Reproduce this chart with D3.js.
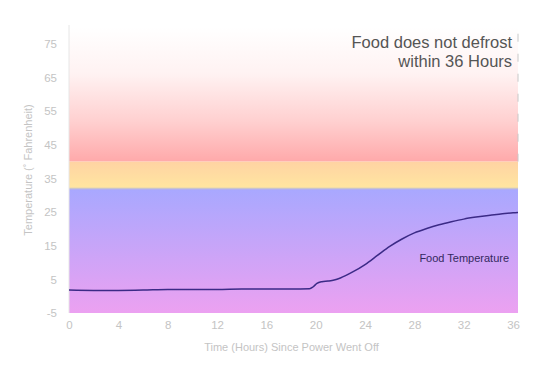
<!DOCTYPE html>
<html>
<head>
<meta charset="utf-8">
<script src="https://cdn.jsdelivr.net/npm/d3@7"></script>
<style>
  body { margin: 0; background: #fff; }
  text { font-family: "Liberation Sans", Arial, sans-serif; }
</style>
</head>
<body>
<div id="chart"></div>
<script>
// time in hours since power went off
const hours = [0, 2, 4, 6, 8, 10, 12, 14, 16, 18, 19.5, 19.8, 20.1, 20.5, 21, 21.5, 22, 23, 24, 25, 26, 27, 28, 29, 30, 31, 32, 33, 34, 35, 36, 36.4]
// food temperature (F)
const temps = [1.8, 1.7, 1.7, 1.8, 2.0, 2.0, 2.0, 2.1, 2.1, 2.1, 2.2, 2.8, 3.8, 4.3, 4.5, 4.8, 5.4, 7.2, 9.4, 12.1, 14.8, 17.0, 18.8, 20.1, 21.2, 22.1, 22.9, 23.5, 24.0, 24.4, 24.8, 24.9]
const xTicks = [0, 4, 8, 12, 16, 20, 24, 28, 32, 36]
const yTicks = [-5, 5, 15, 25, 35, 45, 55, 65, 75]
// temperature zones
const zones = [
  {name: "danger", lo: 40, hi: 80, stops: [[0, "#ffffff"], [0.35, "#fff2f2"], [0.7, "#ffd0d0"], [1, "#ffa9aa"]]},
  {name: "thaw", lo: 32, hi: 40, stops: [[0, "#ffd3a3"], [1, "#ffe6a0"]]},
  {name: "frozen", lo: -5, hi: 32, stops: [[0, "#a8a8ff"], [1, "#eca1f1"]]}
]

const W = 559, H = 371
const m = {left: 69, right: 41, top: 27, bottom: 58}
const w = W - m.left - m.right, h = H - m.top - m.bottom

const svg = d3.select("#chart").append("svg")
  .attr("width", W).attr("height", H)

const x = d3.scaleLinear().domain([0, 36.4]).range([0, w])
const y = d3.scaleLinear().domain([-5, 80]).range([h, 0])

const defs = svg.append("defs")
zones.forEach(z => {
  const grad = defs.append("linearGradient")
    .attr("id", "grad-" + z.name)
    .attr("x1", 0).attr("y1", 0).attr("x2", 0).attr("y2", 1)
  z.stops.forEach(s => {
    grad.append("stop").attr("offset", s[0]).attr("stop-color", s[1])
  })
})

const g = svg.append("g")
  .attr("transform", `translate(${m.left},${m.top})`)

g.selectAll("rect.zone")
  .data(zones)
  .enter().append("rect")
  .attr("class", "zone")
  .attr("x", 0)
  .attr("width", w)
  .attr("y", d => y(d.hi))
  .attr("height", d => y(d.lo) - y(d.hi))
  .attr("fill", d => "url(#grad-" + d.name + ")")

// thin divider between thaw and frozen
g.append("line")
  .attr("x1", 0).attr("x2", w)
  .attr("y1", y(32)).attr("y2", y(32))
  .attr("stroke", "#c8c4cc").attr("stroke-width", 1.5)

// left axis line
g.append("line")
  .attr("x1", 0).attr("x2", 0)
  .attr("y1", -2).attr("y2", h)
  .attr("stroke", "#e6e6e6")

// dashed end marker
g.append("line")
  .attr("x1", w).attr("x2", w)
  .attr("y1", y(78)).attr("y2", y(40))
  .attr("stroke", "#c8c8c8")
  .attr("stroke-dasharray", "8,12")

// axes
const xAxis = g.append("g")
  .attr("transform", `translate(0,${h})`)
  .call(d3.axisBottom(x).tickValues(xTicks).tickSize(0).tickPadding(8))
xAxis.select(".domain").remove()
xAxis.selectAll("text").attr("fill", "#c4c4c4").attr("font-size", "11.5px")

const yAxis = g.append("g")
  .call(d3.axisLeft(y).tickValues(yTicks).tickSize(0).tickPadding(12).tickFormat(d => String(d)))
yAxis.select(".domain").remove()
yAxis.selectAll("text").attr("fill", "#c4c4c4").attr("font-size", "11.5px")

// titles
g.append("text")
  .attr("x", w / 2 - 2)
  .attr("y", h + 38)
  .attr("text-anchor", "middle")
  .attr("font-size", "11px")
  .attr("fill", "#c4c4c4")
  .text("Time (Hours) Since Power Went Off")

g.append("text")
  .attr("transform", "rotate(-90)")
  .attr("x", -y(37.5))
  .attr("y", -37)
  .attr("text-anchor", "middle")
  .attr("font-size", "11px")
  .attr("fill", "#c4c4c4")
  .text("Temperature (˚ Fahrenheit)")

// line
const pts = hours.map((d, i) => ({t: d, v: temps[i]}))
g.append("path")
  .datum(pts)
  .attr("fill", "none")
  .attr("stroke", "#3b2a86")
  .attr("stroke-width", 1.5)
  .attr("d", d3.line().x(d => x(d.t)).y(d => y(d.v)).curve(d3.curveMonotoneX))

g.append("text")
  .attr("x", x(36) - 4)
  .attr("y", y(10.3))
  .attr("text-anchor", "end")
  .attr("font-size", "11px")
  .attr("fill", "#33285e")
  .text("Food Temperature")

// annotation
const note = g.append("text")
  .attr("text-anchor", "end")
  .attr("font-size", "16.5px")
  .attr("fill", "#555")
note.append("tspan").attr("x", x(36) - 1).attr("y", 21).text("Food does not defrost")
note.append("tspan").attr("x", x(36) - 1).attr("y", 40).text("within 36 Hours")
</script>
</body>
</html>
